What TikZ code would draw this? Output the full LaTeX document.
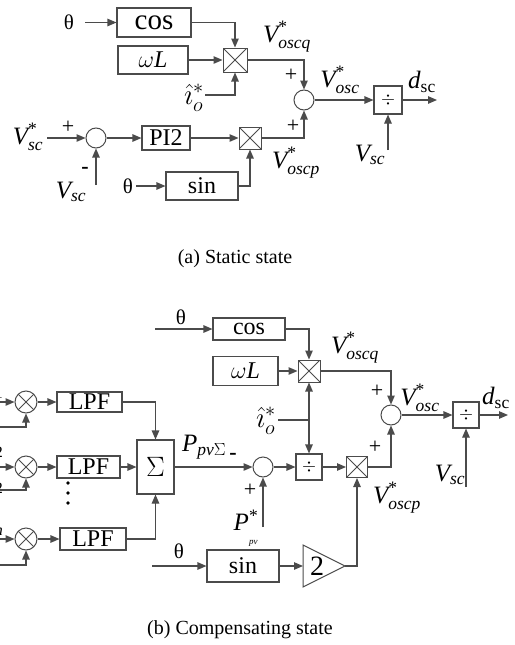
\RequirePackage{fix-cm}
\documentclass[tikz,border=0pt]{standalone}
\usepackage{amsmath}
\usepackage{fontspec}
\setmainfont{Liberation Serif}
\usetikzlibrary{arrows.meta}
\definecolor{lc}{RGB}{75,75,75}
\newcommand{\lf}{\fontsize{25}{27}\selectfont}
\newcommand{\boxfont}{\fontsize{24}{26}\selectfont}
\tikzset{
  ln/.style={draw=lc,line width=1.1pt},
  arr/.style={ln,-{Triangle[length=9pt,width=7.5pt]}},
  blk/.style={draw=lc,line width=1.1pt,inner sep=0pt,font=\boxfont},
  mul/.style={draw=lc,line width=1pt,minimum size=#1,inner sep=0pt,
    path picture={\draw[lc,line width=0.8pt] (path picture bounding box.north west) -- (path picture bounding box.south east)
      (path picture bounding box.north east) -- (path picture bounding box.south west);}},
  otm/.style={circle,draw=lc,line width=1pt,minimum size=22pt,inner sep=0pt,
    path picture={\draw[lc,line width=0.8pt,shift={(path picture bounding box.center)}] (135:12pt) -- (-45:12pt) (45:12pt) -- (-135:12pt);}},
  sumc/.style={circle,draw=lc,line width=1pt,minimum size=20pt,inner sep=0pt},
  dvb/.style={draw=lc,line width=1.1pt,minimum size=#1,inner sep=0pt,font=\fontsize{18}{18}\selectfont},
  lab/.style={inner sep=0pt,font=\lf},
  ihl/.style={inner sep=0pt,font=\fontsize{29}{30}\selectfont},
  sgn/.style={inner sep=0pt,font=\fontsize{22}{22}\selectfont},
  thl/.style={inner sep=0pt,font=\fontsize{21}{21}\selectfont},
  capt/.style={inner sep=0pt,font=\fontsize{20}{22}\selectfont},
  frag/.style={inner sep=0pt,anchor=east,font=\fontsize{16}{16}\selectfont},
}
\begin{document}
\begin{tikzpicture}[x=1pt,y=-1pt]
\useasboundingbox (0,0) rectangle (514,645);
% ---------------- (a) Static state ----------------
\node[thl] (th1) at (69,22.5) {θ};
\coordinate (th1c) at (85,22.5);
\node[blk,minimum width=74pt,minimum height=29pt,font=\fontsize{29}{29}\selectfont] (cos1) at (154,22.5) {cos};
\node[blk,minimum width=70pt,minimum height=28pt] (wl1) at (153,60) {$\omega$\textit{L}};
\node[mul=24pt] (m1) at (235,60) {};
\node[ihl] (ih1) at (194,98) {$\hat{\imath}^{*}_{o}$};
\coordinate (ih1c) at (205,95);
\node[sumc] (s1) at (304,100) {};
\node[lab] (vq1) at (287,37) {$\textit{V}^{\text{*}}_{\textit{oscq}}$};
\node[sgn] (pl1) at (291,75) {+};
\node[lab] (vo1) at (340,80) {$\textit{V}^{\text{*}}_{\textit{osc}}$};
\node[dvb=28pt] (d1) at (388,100) {$\div$};
\node[lab] (ds1) at (422,82) {$\textit{d}_{\text{sc}}$};
\coordinate (dout1) at (437,100);
\node[lab] (vsc1) at (370,155) {$\textit{V}_{\textit{sc}}$};
\coordinate (vsc1c) at (388,150);
\node[mul=22pt] (m2) at (250,138) {};
\node[sgn] (pl2) at (293,126) {+};
\node[lab] (vp1) at (296,163) {$\textit{V}^{\text{*}}_{\textit{oscp}}$};
\node[blk,minimum width=72pt,minimum height=28pt] (sin1) at (202,186) {sin};
\node[thl] (th2) at (128,186) {θ};
\coordinate (th2c) at (136,186);
\node[sumc] (s0) at (96,138) {};
\node[lab] (vss) at (28,137) {$\textit{V}^{\text{*}}_{\textit{sc}}$};
\coordinate (vssc) at (47,138);
\node[sgn] (pl0) at (68,127) {+};
\node[sgn,font=\fontsize{22}{22}\selectfont\bfseries] (mi0) at (85,170) {-};
\node[lab] (vs0) at (71,192) {$\textit{V}_{\textit{sc}}$};
\coordinate (vs0c) at (96,185);
\node[blk,minimum width=48pt,minimum height=24pt] (pi) at (166,138) {PI2};
\draw[arr] (th1c) -- (cos1.west);
\draw[arr] (cos1.east) -| (m1.north);
\draw[arr] (wl1.east) -- (m1.west);
\draw[arr] (ih1c) -| (m1.south);
\draw[arr] (m1.east) -| (s1.north);
\draw[arr] (m2.east) -| (s1.south);
\draw[arr] (s1.east) -- (d1.west);
\draw[arr] (d1.east) -- (dout1);
\draw[arr] (vsc1c) -- (d1.south);
\draw[arr] (vssc) -- (s0.west);
\draw[arr] (s0.east) -- (pi.west);
\draw[arr] (pi.east) -- (m2.west);
\draw[arr] (vs0c) -- (s0.south);
\draw[arr] (th2c) -- (sin1.west);
\draw[arr] (sin1.east) -| (m2.south);
\node[capt] (capa) at (235,259) {(a) Static state};
% ---------------- (b) Compensating state ----------------
\node[thl] (th3) at (181,317) {θ};
\coordinate (th3c) at (155,329);
\node[blk,minimum width=72pt,minimum height=22pt] (cos2) at (249,329) {cos};
\node[blk,minimum width=65pt,minimum height=29pt] (wl2) at (245.5,371) {$\omega$\textit{L}};
\node[mul=22pt] (m3) at (309,371) {};
\node[lab] (vq2) at (355,348) {$\textit{V}^{\text{*}}_{\textit{oscq}}$};
\node[sumc] (s2) at (391,415) {};
\node[sgn] (pl3) at (377,391) {+};
\node[lab] (vo2) at (420,398) {$\textit{V}^{\text{*}}_{\textit{osc}}$};
\node[dvb=26pt] (d3) at (466,415) {$\div$};
\node[lab] (ds2) at (496,398) {$\textit{d}_{\text{sc}}$};
\coordinate (dout2) at (508,415);
\node[lab] (vsc2) at (450,475) {$\textit{V}_{\textit{sc}}$};
\coordinate (vsc2c) at (466,487);
\node[mul=21pt] (m4) at (357,467) {};
\node[sgn] (pl4) at (375,447) {+};
\node[lab] (vp2) at (397,498) {$\textit{V}^{\text{*}}_{\textit{oscp}}$};
\node[dvb=26pt] (d2) at (309,467) {$\div$};
\coordinate (J) at (309,420);
\node[ihl] (ih2) at (266,421) {$\hat{\imath}^{*}_{o}$};
\coordinate (ih2c) at (278,420);
\node[sumc] (s3) at (263,467) {};
\node[lab] (pps) at (204,447) {$\textit{P}_{\textit{pv}\Sigma}$};
\node[sgn,font=\fontsize{22}{22}\selectfont\bfseries] (mi3) at (233,456) {-};
\node[sgn] (pl5) at (250,490) {+};
\node[lab] (ppv) at (246,528) {$\textit{P}^{\text{*}}_{\raisebox{-7pt}{\fontsize{9}{9}\selectfont\textit{pv}}}$};
\coordinate (ppvc) at (263,527);
\node[blk,minimum width=37pt,minimum height=54pt,font=\fontsize{28}{28}\selectfont] (sig) at (155.5,467) {$\Sigma$};
\node[blk,minimum width=65pt,minimum height=20pt] (lpf1) at (89.5,402) {LPF};
\node[blk,minimum width=63pt,minimum height=22pt] (lpf2) at (88.5,467) {LPF};
\node[blk,minimum width=66pt,minimum height=22pt] (lpf3) at (93,539) {LPF};
\node[otm] (o1) at (26,402) {};
\node[otm] (o2) at (26,467) {};
\node[otm] (o3) at (26,539) {};
\coordinate (in1a) at (0,402);
\coordinate (in1b) at (0,427);
\coordinate (in2a) at (0,467);
\coordinate (in2b) at (0,490);
\coordinate (in3a) at (0,539);
\coordinate (in3b) at (0,565);
\node[frag] (f1) at (3,393) {1};
\node[frag] (f2) at (3,452) {2};
\node[frag] (f3) at (3,488) {2};
\node[frag] (f4) at (3,532) {\textit{n}};
\fill[black] (68,483) circle (1.9pt) (68,493) circle (1.9pt) (68,503) circle (1.9pt);
\node[thl] (th4) at (179,551) {θ};
\coordinate (th4c) at (152,566);
\node[blk,minimum width=72pt,minimum height=32pt] (sin2) at (243,566) {sin};
\coordinate (g1) at (303,545);
\coordinate (g2) at (345,566);
\coordinate (g3) at (303,587);
\coordinate (gin) at (303,566);
\draw[ln,line width=1pt] (g1) -- (g2) -- (g3) -- cycle;
\node[inner sep=0pt,font=\fontsize{28}{28}\selectfont] (two) at (317,566) {2};
\draw[arr] (th3c) -- (cos2.west);
\draw[arr] (cos2.east) -| (m3.north);
\draw[arr] (wl2.east) -- (m3.west);
\draw[arr] (m3.east) -| (s2.north);
\draw[arr] (s2.east) -- (d3.west);
\draw[arr] (d3.east) -- (dout2);
\draw[arr] (vsc2c) -- (d3.south);
\draw[arr] (m4.east) -| (s2.south);
\draw[arr] (d2.east) -- (m4.west);
\draw[ln] (ih2c) -- (J);
\draw[arr] (J) -- (m3.south);
\draw[arr] (J) -- (d2.north);
\draw[arr] (s3.east) -- (d2.west);
\draw[arr] (sig.east) -- (s3.west);
\draw[arr] (ppvc) -- (s3.south);
\draw[arr] (lpf1.east) -| (sig.north);
\draw[arr] (lpf2.east) -- (sig.west);
\draw[arr] (lpf3.east) -| (sig.south);
\draw[arr] (o1.east) -- (lpf1.west);
\draw[arr] (o2.east) -- (lpf2.west);
\draw[arr] (o3.east) -- (lpf3.west);
\draw[arr] (in1a) -- (o1.west);
\draw[arr] (in1b) -| (o1.south);
\draw[arr] (in2a) -- (o2.west);
\draw[arr] (in2b) -| (o2.south);
\draw[arr] (in3a) -- (o3.west);
\draw[arr] (in3b) -| (o3.south);
\draw[arr] (th4c) -- (sin2.west);
\draw[arr] (sin2.east) -- (gin);
\draw[arr] (g2) -| (m4.south);
\node[capt] (capb) at (240,630) {(b) Compensating state};
\end{tikzpicture}
\end{document}
